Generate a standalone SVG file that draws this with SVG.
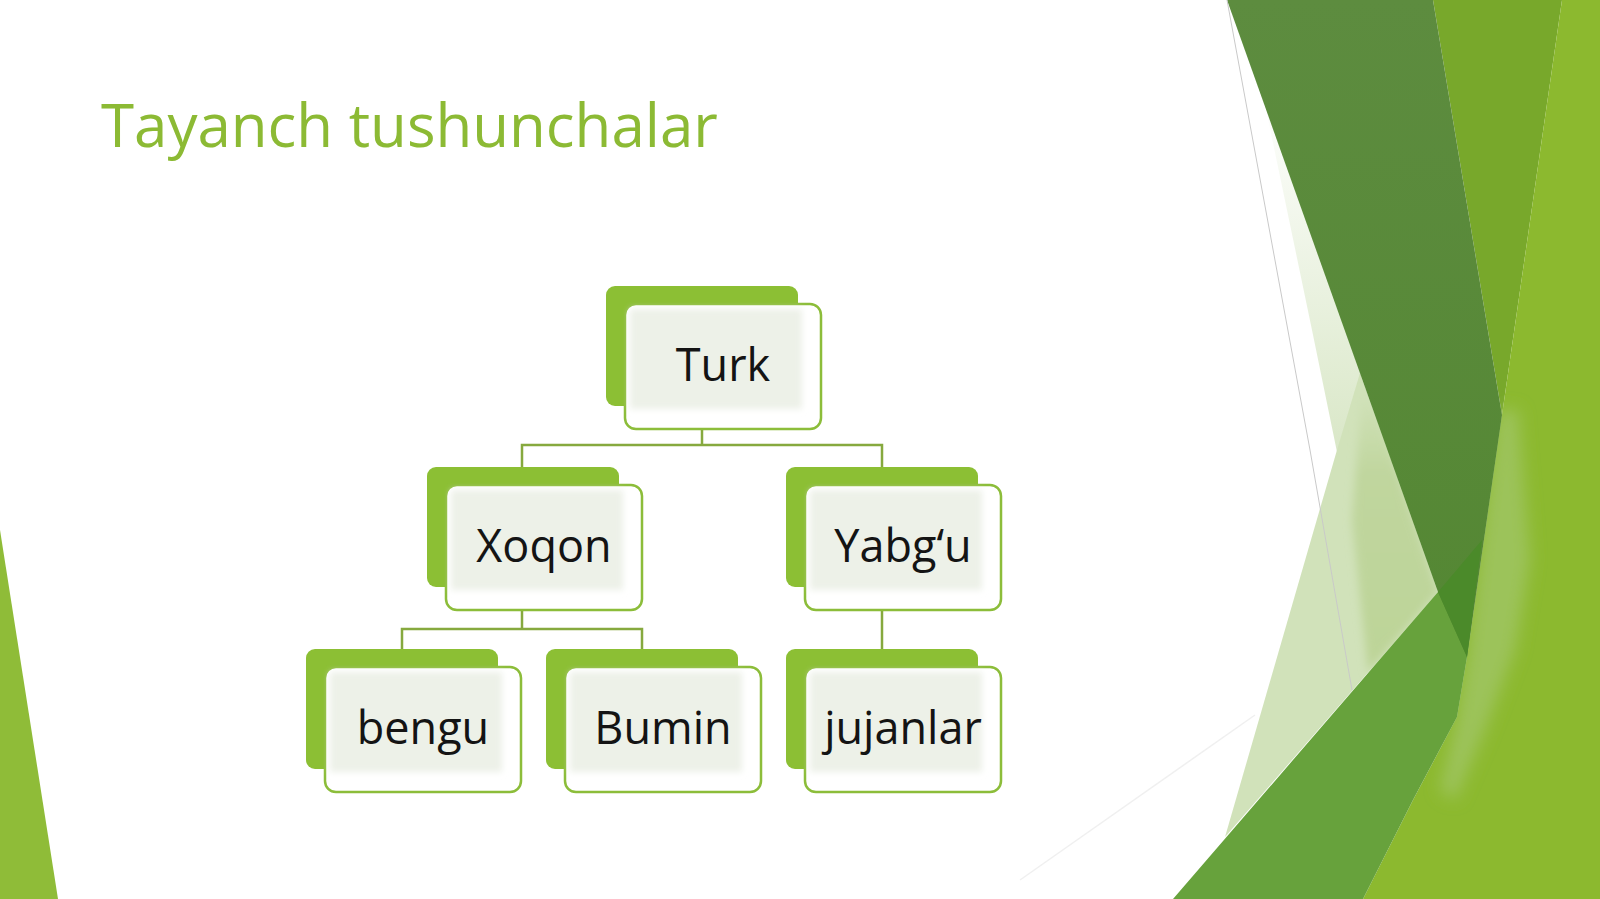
<svg xmlns="http://www.w3.org/2000/svg" width="1600" height="899" viewBox="0 0 1600 899">
<defs>
<style>
.back{fill:#8cbf34}
.front{fill:#ffffff;stroke:#8cbd3a;stroke-width:2.5}
.inner{fill:#edf1e8}
.lbl{font-family:"Open Sans","Noto Sans","DejaVu Sans",sans-serif;font-size:45px;fill:#141414;text-anchor:middle}
.conn{fill:none;stroke:#86a93e;stroke-width:2.5}
</style>
<filter id="soft" x="-10%" y="-10%" width="120%" height="120%"><feGaussianBlur stdDeviation="3"/></filter>
<filter id="blur8" x="-40%" y="-30%" width="180%" height="160%"><feGaussianBlur stdDeviation="8"/></filter>
<filter id="blur4" x="-30%" y="-30%" width="160%" height="160%"><feGaussianBlur stdDeviation="4"/></filter>
<linearGradient id="darkg" x1="0" y1="0" x2="0" y2="1">
<stop offset="0" stop-color="#5d8c3f"/><stop offset="1" stop-color="#548733"/>
</linearGradient>
<linearGradient id="paleg" x1="0" y1="0" x2="0" y2="1">
<stop offset="0" stop-color="#ffffff"/><stop offset="1" stop-color="#d9e7c7"/>
</linearGradient>
<linearGradient id="pale2" x1="0" y1="0" x2="0" y2="1">
<stop offset="0" stop-color="#d1e2ba"/><stop offset="0.3" stop-color="#c0d69e"/><stop offset="1" stop-color="#bdd498"/>
</linearGradient>
</defs>
<rect width="1600" height="899" fill="#ffffff"/>

<g id="background-shapes">
<polygon points="0,530 58,899 0,899" fill="#8fbc38"/>
<polygon points="1262,90 1362,378 1337,452 1312,330" fill="url(#paleg)"/>
<polygon points="1360,373 1438,592 1225,837 1337,450" fill="#d1e2ba"/>
<polygon points="1362,390 1380,420 1438,592 1368,672 1352,520" fill="url(#pale2)" filter="url(#blur4)"/>
<polygon points="1433,0 1562,0 1502,415" fill="#78a82b"/>
<polygon points="1562,0 1600,0 1600,899 1363,899 1413,800 1457,717 1467,657 1502,415" fill="#8cb92f"/>
<polygon points="1498,410 1518,410 1530,560 1515,650 1485,730 1455,800 1440,790 1457,717 1467,657" fill="#9cc35a" filter="url(#blur8)"/>
<polygon points="1173,899 1438,592 1482,540 1467,657 1457,717 1413,800 1363,899" fill="#67a23c"/>
<polygon points="1227,0 1433,0 1502,415 1467,657 1438,592" fill="url(#darkg)"/>
<polygon points="1438,592 1482,540 1467,657" fill="#4b8a2a"/>
<polyline points="1227,0 1310,450 1352,690" fill="none" stroke="#c9c9c9" stroke-width="1"/>
<line x1="1020" y1="880" x2="1255" y2="715" stroke="#f0f0f0" stroke-width="1.5"/>
</g>

<text id="title" x="101" y="147" font-family="'Open Sans','Noto Sans',sans-serif" font-size="60" fill="#8cba34">Tayanch tushunchalar</text>

<g id="connectors">
<polyline class="conn" points="702,429 702,445"/>
<polyline class="conn" points="522,467 522,445 882,445 882,467"/>
<polyline class="conn" points="522,610 522,629"/>
<polyline class="conn" points="402,649 402,629 642,629 642,649"/>
<polyline class="conn" points="882,610 882,649"/>
</g>

<g id="node-turk">
<rect class="back" x="606" y="286" width="192" height="120" rx="9"/>
<rect class="front" x="625" y="304" width="196" height="125" rx="11"/>
<rect class="inner" x="630" y="309" width="172" height="100" filter="url(#soft)"/>
<text class="lbl" x="723" y="381">Turk</text>
</g>

<g id="node-xoqon">
<rect class="back" x="427" y="467" width="192" height="120" rx="9"/>
<rect class="front" x="446" y="485" width="196" height="125" rx="11"/>
<rect class="inner" x="451" y="490" width="172" height="100" filter="url(#soft)"/>
<text class="lbl" x="544" y="562">Xoqon</text>
</g>

<g id="node-yabgu">
<rect class="back" x="786" y="467" width="192" height="120" rx="9"/>
<rect class="front" x="805" y="485" width="196" height="125" rx="11"/>
<rect class="inner" x="810" y="490" width="172" height="100" filter="url(#soft)"/>
<text class="lbl" x="903" y="562">Yabg‘u</text>
</g>

<g id="node-bengu">
<rect class="back" x="306" y="649" width="192" height="120" rx="9"/>
<rect class="front" x="325" y="667" width="196" height="125" rx="11"/>
<rect class="inner" x="330" y="672" width="172" height="100" filter="url(#soft)"/>
<text class="lbl" x="423" y="744">bengu</text>
</g>

<g id="node-bumin">
<rect class="back" x="546" y="649" width="192" height="120" rx="9"/>
<rect class="front" x="565" y="667" width="196" height="125" rx="11"/>
<rect class="inner" x="570" y="672" width="172" height="100" filter="url(#soft)"/>
<text class="lbl" x="663" y="744">Bumin</text>
</g>

<g id="node-jujanlar">
<rect class="back" x="786" y="649" width="192" height="120" rx="9"/>
<rect class="front" x="805" y="667" width="196" height="125" rx="11"/>
<rect class="inner" x="810" y="672" width="172" height="100" filter="url(#soft)"/>
<text class="lbl" x="903" y="744">jujanlar</text>
</g>
</svg>
